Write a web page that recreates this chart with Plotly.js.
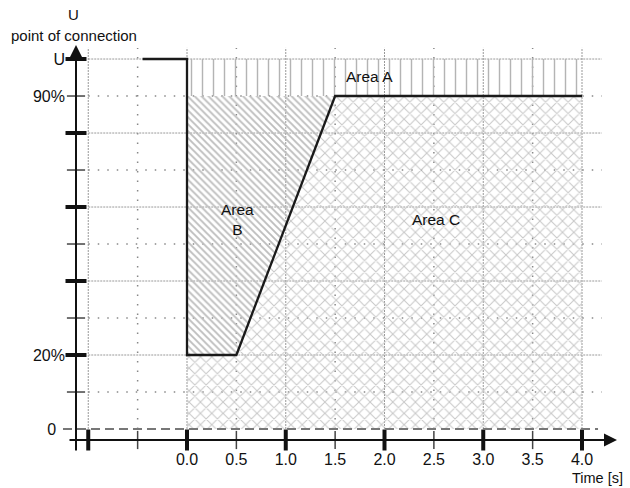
<!DOCTYPE html>
<html>
<head>
<meta charset="utf-8">
<script src="https://cdn.plot.ly/plotly-3.0.1.min.js"></script>
<style>html,body{margin:0;padding:0;background:#fff;}#chart{width:630px;height:488px;}</style>
</head>
<body>
<div id="chart"></div>
<script>
// ---- data ----
const stepX = [-0.45, 0, 0, 0.5, 1.5, 4.0];
const stepY = [1.0, 1.0, 0.2, 0.2, 0.9, 0.9];

const areaAX = [0, 0, 4, 4];
const areaAY = [0.9, 1.0, 1.0, 0.9];
const areaBX = [0, 0, 1.5, 0.5];
const areaBY = [0.2, 0.9, 0.9, 0.2];
const areaCX = [0, 0, 0.5, 1.5, 4, 4];
const areaCY = [0, 0.2, 0.2, 0.9, 0.9, 0];

const xTickVals = [0, 0.5, 1, 1.5, 2, 2.5, 3, 3.5, 4];
const xTickText = ["0.0", "0.5", "1.0", "1.5", "2.0", "2.5", "3.0", "3.5", "4.0"];
const yTickVals = [0, 0.2, 0.9, 1.0];
const yTickText = ["0\u00a0\u00a0", "20%", "90%", "U"];

const xMajor = [-1, 0, 1, 2, 3, 4];
const xMinor = [-0.5, 0.5, 1.5, 2.5, 3.5];
const yMajor = [0.2, 0.4, 0.6, 0.8, 1.0];
const yMinor = [0.1, 0.3, 0.5, 0.7, 0.9];

const areaLabels = [
  {x: 1.85, y: 0.954, text: "Area A"},
  {x: 0.51, y: 0.565, text: "Area<br>B"},
  {x: 2.52, y: 0.565, text: "Area C"}
];

// ---- layout constants ----
const xRange = [-1.1241, 4.3848];
const yRange = [-0.0297, 1.0514];
const FONT = "Liberation Sans, Arial, sans-serif";
const gridTop = 1.03, gridLeft = -1.0, gridRight = 4.2;

const traces = [];
function area(xs, ys, shape, size, sol, col) {
  return {x: xs, y: ys, type: 'scatter', mode: 'lines', fill: 'toself',
    line: {width: 0, color: 'rgba(0,0,0,0)'},
    fillcolor: 'rgba(0,0,0,0)',
    fillpattern: {shape: shape, size: size, solidity: sol, fgcolor: col, bgcolor: 'rgba(0,0,0,0)'},
    hoverinfo: 'skip', showlegend: false};
}
traces.push(area(areaAX, areaAY, '|', 11, 0.13, '#b4b4b4'));
traces.push(area(areaBX, areaBY, '\\', 4.9, 0.38, '#bdbdbd'));
traces.push(area(areaCX, areaCY, 'x', 8, 0.24, '#c8c8c8'));

// step curve
traces.push({x: stepX, y: stepY, type: 'scatter', mode: 'lines',
  line: {color: '#1a1a1a', width: 2.3}, showlegend: false, hoverinfo: 'skip'});

// tick marks on axes
traces.push({x: xMajor, y: xMajor.map(() => yRange[0]), type: 'scatter', mode: 'markers', cliponaxis: false,
  marker: {symbol: 'line-ns', size: 15, line: {width: 4, color: '#111'}}, showlegend: false, hoverinfo: 'skip'});
traces.push({x: xMinor, y: xMinor.map(() => yRange[0]), type: 'scatter', mode: 'markers', cliponaxis: false,
  marker: {symbol: 'line-ns', size: 13, line: {width: 1.5, color: '#444'}}, showlegend: false, hoverinfo: 'skip'});
traces.push({x: yMajor.map(() => xRange[0]), y: yMajor, type: 'scatter', mode: 'markers', cliponaxis: false,
  marker: {symbol: 'line-ew', size: 15, line: {width: 4, color: '#111'}}, showlegend: false, hoverinfo: 'skip'});
traces.push({x: yMinor.map(() => xRange[0]), y: yMinor, type: 'scatter', mode: 'markers', cliponaxis: false,
  marker: {symbol: 'line-ew', size: 13, line: {width: 1.5, color: '#444'}}, showlegend: false, hoverinfo: 'skip'});

// grid shapes
const shapes = [];
const dense = {color: '#999', width: 1, dash: '2px,1px'};
const sparse = {color: '#888', width: 1.5, dash: '1.5px,8px'};
xMajor.forEach(v => shapes.push({type: 'line', layer: 'below', x0: v, x1: v, y0: 0, y1: gridTop, line: dense}));
xMinor.forEach(v => shapes.push({type: 'line', layer: 'below', x0: v, x1: v, y0: 0, y1: gridTop, line: sparse}));
yMajor.forEach(v => shapes.push({type: 'line', layer: 'below', x0: gridLeft, x1: gridRight, y0: v, y1: v, line: dense}));
yMinor.forEach(v => shapes.push({type: 'line', layer: 'below', x0: gridLeft, x1: gridRight, y0: v, y1: v, line: sparse}));
// dashed zero line
shapes.push({type: 'line', layer: 'above', xref: 'paper', yref: 'y', x0: -0.0239, x1: 0.9596, y0: 0, y1: 0,
  line: {color: '#777', width: 2, dash: '9px,5px'}});

const annotations = [];
areaLabels.forEach(a => annotations.push({x: a.x, y: a.y, xref: 'x', yref: 'y', text: a.text, showarrow: false,
  font: {family: FONT, size: 15.5, color: '#111'}}));
// axis arrows
annotations.push({xref: 'paper', yref: 'paper', x: 0.9945, y: 0, ax: -549, ay: 0, axref: 'pixel', ayref: 'pixel',
  text: '', showarrow: true, arrowhead: 2, arrowsize: 1.3, arrowwidth: 2, arrowcolor: '#111', standoff: 0});
annotations.push({xref: 'paper', yref: 'paper', x: 0, y: 0.9875, ax: 0, ay: 407, axref: 'pixel', ayref: 'pixel',
  text: '', showarrow: true, arrowhead: 2, arrowsize: 1.3, arrowwidth: 2, arrowcolor: '#111', standoff: 0});
// axis titles
annotations.push({xref: 'paper', yref: 'paper', x: -0.004, y: 1.065, text: 'U', showarrow: false,
  xanchor: 'center', yanchor: 'middle', font: {family: FONT, size: 15, color: '#111'}});
annotations.push({xref: 'paper', yref: 'paper', x: -0.004, y: 1.0125, text: 'point of connection', showarrow: false,
  xanchor: 'center', yanchor: 'middle', font: {family: FONT, size: 15, color: '#111'}});
annotations.push({xref: 'paper', yref: 'paper', x: 0.958, y: -0.095, text: 'Time [s]', showarrow: false,
  xanchor: 'center', yanchor: 'middle', font: {family: FONT, size: 14.5, color: '#111'}});

const layout = {
  width: 630, height: 488,
  margin: {l: 76, r: 10, t: 40, b: 48},
  paper_bgcolor: '#fff', plot_bgcolor: '#fff',
  font: {family: FONT, size: 16, color: '#111'},
  showlegend: false,
  xaxis: {range: xRange, showgrid: false, zeroline: false, showline: false, ticks: '',
    tickvals: xTickVals, ticktext: xTickText, ticklabelstandoff: 8, fixedrange: true},
  yaxis: {range: yRange, showgrid: false, zeroline: false, showline: false, ticks: '',
    tickvals: yTickVals, ticktext: yTickText, ticklabelstandoff: 10, fixedrange: true},
  shapes: shapes,
  annotations: annotations
};

Plotly.newPlot('chart', traces, layout, {displayModeBar: false, staticPlot: true});
</script>
</body>
</html>
